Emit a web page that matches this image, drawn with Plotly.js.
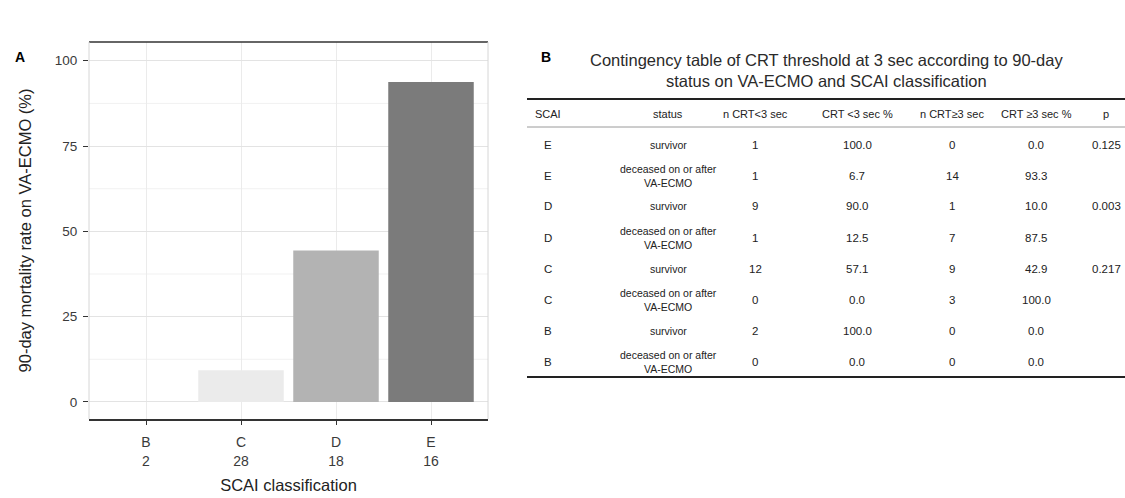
<!DOCTYPE html>
<html>
<head>
<meta charset="utf-8">
<script src="https://cdn.plot.ly/plotly-3.0.1.min.js"></script>
<style>
  html, body { margin: 0; padding: 0; background: #ffffff; }
  #chart { width: 1125px; height: 498px; }
</style>
</head>
<body>
<div id="chart"></div>
<script>
// ---- Panel A: 90-day mortality by SCAI class ----
const scaiClasses = ['B', 'C', 'D', 'E'];
const scaiCounts = [2, 28, 18, 16];
const mortalityPct = [0, 9.3, 44.4, 93.8];
const barColors = ['#ffffff', '#ebebeb', '#b3b3b3', '#7b7b7b'];

// ---- Panel B: contingency table ----
const tableTitle = 'Contingency table of CRT threshold at 3 sec according to 90-day<br>status on VA-ECMO and SCAI classification';
const tableHeader = ['SCAI', 'status', 'n CRT<3 sec', 'CRT <3 sec %', 'n CRT\u22653 sec', 'CRT \u22653 sec %', 'p'];
const colScai = ['E', 'E', 'D', 'D', 'C', 'C', 'B', 'B'];
const colStatus = ['survivor', 'deceased on or after<br>VA-ECMO', 'survivor', 'deceased on or after<br>VA-ECMO',
                   'survivor', 'deceased on or after<br>VA-ECMO', 'survivor', 'deceased on or after<br>VA-ECMO'];
const colNBelow = ['1', '1', '9', '1', '12', '0', '2', '0'];
const colPctBelow = ['100.0', '6.7', '90.0', '12.5', '57.1', '0.0', '100.0', '0.0'];
const colNAbove = ['0', '14', '1', '7', '9', '3', '0', '0'];
const colPctAbove = ['0.0', '93.3', '10.0', '87.5', '42.9', '100.0', '0.0', '0.0'];
const colP = ['0.125', '', '0.003', '', '0.217', '', '', ''];

// page geometry (pixels)
const W = 1125, H = 498;
const M = { l: 89, r: 0, t: 42, b: 79 };
const plotW = W - M.l - M.r, plotH = H - M.t - M.b;
const px = x => (x - M.l) / plotW;          // pixel -> paper x
const py = y => (H - M.b - y) / plotH;      // pixel -> paper y

const FONT = 'Liberation Sans, Arial, Helvetica, sans-serif';
const panelARight = 488;

const traces = [{
  type: 'bar',
  x: scaiClasses,
  y: mortalityPct,
  width: 0.9,
  marker: { color: barColors, line: { width: 0 } },
  hoverinfo: 'x+y',
  showlegend: false
}];

const tickText = scaiClasses.map((c, i) => c + '<br>' + scaiCounts[i]);

const shapes = [];
const annotations = [];

// minor horizontal gridlines for panel A
[12.5, 37.5, 62.5, 87.5].forEach(v => shapes.push({
  type: 'line', xref: 'paper', yref: 'y', layer: 'below',
  x0: 0, x1: px(panelARight), y0: v, y1: v,
  line: { color: '#f1f1f1', width: 1 }
}));
// panel frame: dark top edge, light sides
shapes.push({ type: 'line', xref: 'paper', yref: 'paper', x0: 0, x1: px(panelARight), y0: 1, y1: 1,
  line: { color: '#333333', width: 1.5 } });
shapes.push({ type: 'line', xref: 'paper', yref: 'paper', x0: 0, x1: 0, y0: 0, y1: 1,
  line: { color: '#d6d6d6', width: 1 } });
shapes.push({ type: 'line', xref: 'paper', yref: 'paper', x0: px(panelARight), x1: px(panelARight), y0: 0, y1: 1,
  line: { color: '#d6d6d6', width: 1 } });

// panel letters
annotations.push({ text: '<b>A</b>', xref: 'paper', yref: 'paper', x: px(20), y: py(57),
  showarrow: false, xanchor: 'center', yanchor: 'middle', font: { family: FONT, size: 14, color: '#000' } });
annotations.push({ text: '<b>B</b>', xref: 'paper', yref: 'paper', x: px(546), y: py(57),
  showarrow: false, xanchor: 'center', yanchor: 'middle', font: { family: FONT, size: 14, color: '#000' } });

// ---- table layout ----
const tblLeft = 527, tblRight = 1125;
const colCenters = [548, 668, 755, 857, 952, 1036, 1106];
const ruleTop = 99, ruleHead = 127, rowH = 31;
const headerY = (ruleTop + ruleHead) / 2 + 1;
const ruleBottom = ruleHead + rowH * colScai.length + 2;

annotations.push({ text: tableTitle, xref: 'paper', yref: 'paper', x: px((tblLeft + tblRight) / 2), y: py(70),
  showarrow: false, xanchor: 'center', yanchor: 'middle', align: 'center',
  font: { family: FONT, size: 16.5, color: '#2a2a2a' } });

shapes.push({ type: 'line', xref: 'paper', yref: 'paper', x0: px(tblLeft), x1: px(tblRight), y0: py(ruleTop), y1: py(ruleTop),
  line: { color: '#222222', width: 2 } });
shapes.push({ type: 'line', xref: 'paper', yref: 'paper', x0: px(tblLeft), x1: px(tblRight), y0: py(ruleHead), y1: py(ruleHead),
  line: { color: '#9a9a9a', width: 1 } });
shapes.push({ type: 'line', xref: 'paper', yref: 'paper', x0: px(tblLeft), x1: px(tblRight), y0: py(ruleBottom), y1: py(ruleBottom),
  line: { color: '#222222', width: 2 } });

tableHeader.forEach((h, j) => annotations.push({
  text: h, xref: 'paper', yref: 'paper', x: px(colCenters[j]), y: py(headerY),
  showarrow: false, xanchor: 'center', yanchor: 'middle',
  font: { family: FONT, size: 11, color: '#222' }
}));

const columns = [colScai, colStatus, colNBelow, colPctBelow, colNAbove, colPctAbove, colP];
for (let i = 0; i < colScai.length; i++) {
  const yc = ruleHead + rowH * (i + 0.5) + 2;
  columns.forEach((col, j) => {
    if (!col[i]) return;
    annotations.push({
      text: col[i], xref: 'paper', yref: 'paper', x: px(colCenters[j]), y: py(yc),
      showarrow: false, xanchor: 'center', yanchor: 'middle', align: 'center',
      font: { family: FONT, size: j === 1 ? 10.5 : 11.5, color: '#222' }
    });
  });
}

const layout = {
  width: W, height: H,
  margin: M,
  paper_bgcolor: '#ffffff',
  plot_bgcolor: '#ffffff',
  font: { family: FONT, size: 12, color: '#333' },
  xaxis: {
    domain: [0, px(panelARight)],
    type: 'category',
    range: [-0.6, 3.6],
    tickmode: 'array', tickvals: scaiClasses, ticktext: tickText,
    ticks: 'outside', ticklen: 4, tickcolor: '#333', tickwidth: 1,
    ticklabelstandoff: 6,
    tickfont: { family: FONT, size: 14, color: '#3a3a3a' },
    showgrid: true, gridcolor: '#ebebeb', gridwidth: 1,
    showline: true, linecolor: '#333333', linewidth: 1.5,
    zeroline: false,
    title: { text: 'SCAI classification', standoff: 12, font: { family: FONT, size: 16.5, color: '#222' } }
  },
  yaxis: {
    range: [-5, 105.5],
    tickvals: [0, 25, 50, 75, 100],
    ticks: 'outside', ticklen: 5, tickcolor: '#333', tickwidth: 1,
    ticklabelstandoff: 3,
    tickfont: { family: FONT, size: 13.5, color: '#3a3a3a' },
    showgrid: true, gridcolor: '#e3e3e3', gridwidth: 1,
    zeroline: false, showline: false,
    title: { text: '90-day mortality rate on VA-ECMO (%)', standoff: 18, font: { family: FONT, size: 16.5, color: '#222' } }
  },
  shapes: shapes,
  annotations: annotations
};

Plotly.newPlot('chart', traces, layout, { displayModeBar: false, staticPlot: true });
</script>
</body>
</html>
